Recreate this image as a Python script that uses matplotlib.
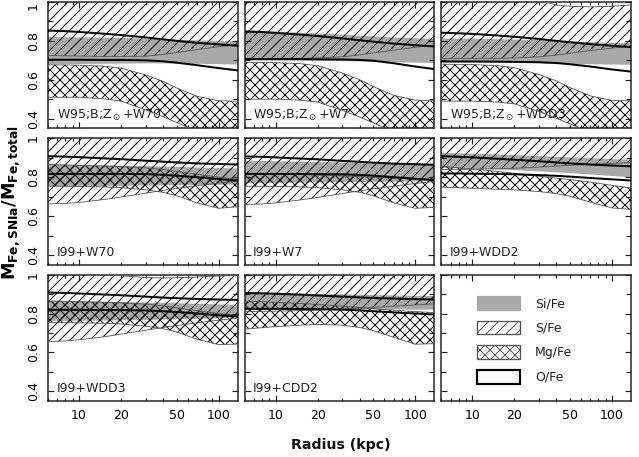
import matplotlib
matplotlib.use("Agg")
import matplotlib.pyplot as plt
from matplotlib.patches import Patch
from matplotlib.ticker import FixedLocator, FuncFormatter

radius = [6, 8, 10, 15, 20, 30, 40, 50, 70, 100, 137]

labels = [r"W95;B;Z$_\odot$+W70", r"W95;B;Z$_\odot$+W7", r"W95;B;Z$_\odot$+WDD3",
          "I99+W70", "I99+W7", "I99+WDD2",
          "I99+WDD3", "I99+CDD2"]

# O/Fe (two thick lines)
o_hi = [
    [0.853, 0.850, 0.846, 0.837, 0.830, 0.818, 0.808, 0.800, 0.790, 0.782, 0.775],
    [0.848, 0.845, 0.841, 0.832, 0.825, 0.813, 0.803, 0.796, 0.786, 0.778, 0.771],
    [0.842, 0.839, 0.836, 0.828, 0.821, 0.810, 0.800, 0.793, 0.783, 0.775, 0.768],
    [0.908, 0.906, 0.903, 0.897, 0.893, 0.885, 0.880, 0.876, 0.871, 0.868, 0.865],
    [0.907, 0.905, 0.902, 0.896, 0.892, 0.884, 0.879, 0.875, 0.870, 0.867, 0.864],
    [0.908, 0.905, 0.902, 0.895, 0.890, 0.882, 0.876, 0.871, 0.865, 0.860, 0.856],
    [0.908, 0.906, 0.903, 0.898, 0.894, 0.887, 0.882, 0.879, 0.875, 0.872, 0.870],
    [0.906, 0.904, 0.902, 0.897, 0.893, 0.887, 0.883, 0.880, 0.877, 0.874, 0.872],
]
o_lo = [
    [0.703, 0.703, 0.703, 0.702, 0.702, 0.700, 0.695, 0.688, 0.675, 0.660, 0.648],
    [0.706, 0.706, 0.706, 0.706, 0.705, 0.704, 0.702, 0.698, 0.685, 0.668, 0.655],
    [0.694, 0.694, 0.694, 0.693, 0.692, 0.690, 0.686, 0.680, 0.668, 0.653, 0.642],
    [0.817, 0.817, 0.817, 0.817, 0.817, 0.816, 0.812, 0.808, 0.800, 0.790, 0.783],
    [0.817, 0.817, 0.817, 0.817, 0.816, 0.815, 0.812, 0.808, 0.800, 0.792, 0.785],
    [0.819, 0.819, 0.818, 0.817, 0.815, 0.811, 0.807, 0.803, 0.796, 0.789, 0.783],
    [0.819, 0.819, 0.819, 0.818, 0.818, 0.816, 0.812, 0.808, 0.800, 0.791, 0.785],
    [0.824, 0.824, 0.824, 0.823, 0.822, 0.820, 0.816, 0.812, 0.806, 0.800, 0.795],
]

# Si/Fe (grey band)
si_hi = [
    [0.820, 0.819, 0.818, 0.816, 0.815, 0.812, 0.809, 0.806, 0.803, 0.800, 0.797],
    [0.856, 0.852, 0.848, 0.842, 0.838, 0.832, 0.827, 0.823, 0.818, 0.813, 0.810],
    [0.813, 0.812, 0.811, 0.809, 0.807, 0.804, 0.800, 0.797, 0.794, 0.790, 0.788],
    [0.865, 0.864, 0.863, 0.861, 0.859, 0.857, 0.855, 0.853, 0.850, 0.847, 0.845],
    [0.885, 0.884, 0.882, 0.880, 0.878, 0.875, 0.873, 0.871, 0.869, 0.867, 0.865],
    [0.925, 0.923, 0.921, 0.917, 0.914, 0.909, 0.905, 0.902, 0.898, 0.893, 0.890],
    [0.865, 0.864, 0.863, 0.861, 0.859, 0.857, 0.855, 0.853, 0.850, 0.847, 0.845],
    [0.906, 0.905, 0.904, 0.902, 0.901, 0.899, 0.897, 0.895, 0.893, 0.891, 0.890],
]
si_lo = [
    [0.680, 0.680, 0.681, 0.682, 0.683, 0.684, 0.684, 0.683, 0.682, 0.680, 0.678],
    [0.700, 0.700, 0.700, 0.699, 0.698, 0.696, 0.694, 0.692, 0.690, 0.688, 0.686],
    [0.690, 0.690, 0.690, 0.689, 0.688, 0.686, 0.684, 0.682, 0.680, 0.678, 0.677],
    [0.754, 0.754, 0.755, 0.755, 0.756, 0.757, 0.758, 0.759, 0.760, 0.761, 0.762],
    [0.770, 0.770, 0.771, 0.772, 0.773, 0.774, 0.775, 0.776, 0.777, 0.779, 0.780],
    [0.848, 0.846, 0.844, 0.840, 0.836, 0.830, 0.825, 0.821, 0.814, 0.806, 0.800],
    [0.762, 0.762, 0.763, 0.764, 0.765, 0.767, 0.769, 0.771, 0.773, 0.776, 0.778],
    [0.824, 0.824, 0.824, 0.823, 0.823, 0.822, 0.822, 0.821, 0.821, 0.820, 0.820],
]

# S/Fe (single hatch band)
s_hi = [
    [1.05] * 11,
    [1.05] * 11,
    [1.05, 1.05, 1.05, 1.05, 1.05, 1.01, 0.985, 0.978, 0.975, 0.978, 0.985],
    [1.05] * 11,
    [1.05] * 11,
    [1.05] * 11,
    [1.05, 1.05, 1.05, 1.01, 0.995, 0.985, 0.983, 0.984, 0.988, 0.993, 0.997],
    [1.05] * 11,
]
s_lo = [
    [0.725, 0.723, 0.722, 0.720, 0.720, 0.721, 0.730, 0.740, 0.755, 0.770, 0.780],
    [0.710, 0.710, 0.710, 0.710, 0.712, 0.718, 0.728, 0.738, 0.752, 0.767, 0.778],
    [0.710, 0.710, 0.710, 0.710, 0.712, 0.718, 0.727, 0.736, 0.750, 0.763, 0.772],
    [0.663, 0.665, 0.670, 0.685, 0.698, 0.718, 0.732, 0.742, 0.756, 0.770, 0.780],
    [0.660, 0.662, 0.668, 0.683, 0.696, 0.716, 0.730, 0.740, 0.754, 0.768, 0.778],
    [0.840, 0.840, 0.841, 0.843, 0.846, 0.852, 0.857, 0.861, 0.866, 0.871, 0.875],
    [0.656, 0.659, 0.665, 0.680, 0.694, 0.714, 0.728, 0.738, 0.752, 0.766, 0.776],
    [0.810, 0.811, 0.812, 0.815, 0.818, 0.823, 0.828, 0.832, 0.838, 0.844, 0.850],
]

# Mg/Fe (cross hatch band)
mg_hi = [
    [0.677, 0.676, 0.675, 0.670, 0.660, 0.625, 0.592, 0.558, 0.515, 0.492, 0.490],
    [0.690, 0.689, 0.688, 0.683, 0.672, 0.635, 0.600, 0.565, 0.520, 0.495, 0.492],
    [0.680, 0.679, 0.678, 0.673, 0.662, 0.627, 0.594, 0.560, 0.517, 0.494, 0.492],
    [0.865, 0.863, 0.861, 0.858, 0.855, 0.848, 0.840, 0.830, 0.815, 0.800, 0.790],
    [0.817, 0.816, 0.815, 0.813, 0.811, 0.807, 0.803, 0.800, 0.796, 0.792, 0.790],
    [0.856, 0.848, 0.842, 0.830, 0.820, 0.805, 0.795, 0.788, 0.775, 0.758, 0.745],
    [0.865, 0.863, 0.861, 0.858, 0.855, 0.848, 0.840, 0.830, 0.815, 0.800, 0.790],
    [0.863, 0.861, 0.858, 0.852, 0.847, 0.838, 0.831, 0.825, 0.817, 0.810, 0.805],
]
mg_lo = [
    [0.510, 0.510, 0.510, 0.502, 0.490, 0.445, 0.410, 0.380, 0.335, 0.300, 0.300],
    [0.500, 0.500, 0.500, 0.495, 0.485, 0.443, 0.408, 0.378, 0.333, 0.300, 0.300],
    [0.490, 0.490, 0.490, 0.485, 0.476, 0.437, 0.402, 0.373, 0.330, 0.300, 0.300],
    [0.754, 0.753, 0.752, 0.750, 0.746, 0.735, 0.722, 0.705, 0.668, 0.640, 0.648],
    [0.754, 0.753, 0.752, 0.750, 0.746, 0.735, 0.722, 0.705, 0.668, 0.640, 0.645],
    [0.749, 0.746, 0.743, 0.738, 0.735, 0.726, 0.716, 0.702, 0.672, 0.642, 0.634],
    [0.754, 0.753, 0.752, 0.750, 0.746, 0.735, 0.722, 0.705, 0.668, 0.640, 0.643],
    [0.720, 0.727, 0.733, 0.740, 0.744, 0.740, 0.728, 0.712, 0.678, 0.642, 0.645],
]

legend_names = ["Si/Fe", "S/Fe", "Mg/Fe", "O/Fe"]
xtick_major = [10, 100]
xtick_minor = [6, 7, 8, 9, 20, 30, 40, 50, 60, 70, 80, 90]
xtick_labelled = [10, 20, 50, 100]
ytick_major = [0.4, 0.6, 0.8, 1.0]
ytick_minor = [0.5, 0.7, 0.9]

GREY = "#a9a9a9"
EDGE = "#555555"
plt.rcParams["hatch.linewidth"] = 0.6
plt.rcParams["font.family"] = "DejaVu Sans"

DPI = 120
fig, axes = plt.subplots(3, 3, figsize=(639 / DPI, 457 / DPI), dpi=DPI)
fig.subplots_adjust(left=48 / 639, right=631 / 639, top=1 - 2 / 457,
                    bottom=1 - 401 / 457, wspace=0.037, hspace=0.079)


def xlab(v, pos):
    return "%d" % v if int(round(v)) in xtick_labelled else ""


for k, ax in enumerate(axes.flat):
    row, col = divmod(k, 3)
    ax.set_xscale("log")
    ax.set_xlim(6, 137)
    ax.set_ylim(0.35, 1.0)

    if k < len(labels):
        ax.fill_between(radius, si_lo[k], si_hi[k], facecolor=GREY, lw=0, zorder=1)
        ax.fill_between(radius, s_lo[k], s_hi[k], facecolor="none", edgecolor="black",
                        hatch="////", lw=0, zorder=2)
        ax.fill_between(radius, mg_lo[k], mg_hi[k], facecolor="none", edgecolor="black",
                        hatch="xxxx", lw=0, zorder=3)
        for band in (s_lo[k], s_hi[k], mg_lo[k], mg_hi[k]):
            ax.plot(radius, band, color=EDGE, lw=0.5, zorder=3.5)
        ax.plot(radius, o_hi[k], color="black", lw=1.2, zorder=4)
        ax.plot(radius, o_lo[k], color="black", lw=1.2, zorder=4)
        ax.text(0.045, 0.045, labels[k], transform=ax.transAxes, fontsize=7.5,
                color="#222222", ha="left", va="bottom", zorder=0.5)

    ax.xaxis.set_major_locator(FixedLocator(xtick_major))
    ax.xaxis.set_minor_locator(FixedLocator(xtick_minor))
    ax.yaxis.set_major_locator(FixedLocator(ytick_major))
    ax.yaxis.set_minor_locator(FixedLocator(ytick_minor))
    ax.tick_params(which="both", direction="in", top=True, right=True,
                   color="#222222", width=0.7, labelsize=7.5)
    ax.tick_params(which="major", length=3.6)
    ax.tick_params(axis="x", which="minor", length=1.8)
    ax.tick_params(axis="y", which="minor", length=3.0)
    for sp in ax.spines.values():
        sp.set_linewidth(0.9)
        sp.set_color("#222222")

    if row == 2:
        ax.xaxis.set_major_formatter(FuncFormatter(xlab))
        ax.xaxis.set_minor_formatter(FuncFormatter(xlab))
        ax.tick_params(axis="x", which="both", pad=5)
    else:
        ax.set_xticklabels([])
        ax.set_xticklabels([], minor=True)
    if col == 0:
        ax.set_yticklabels(["0.4", "0.6", "0.8", "1"], rotation=90, va="center")
        ax.tick_params(axis="y", pad=5)
        if row == 0:
            ax.get_yticklabels()[-1].set_va("top")
    else:
        ax.set_yticklabels([])

# legend panel
lax = axes[2, 2]
handles = [
    Patch(facecolor=GREY, edgecolor=GREY, lw=0.8),
    Patch(facecolor="white", edgecolor=EDGE, hatch="////", lw=0.8),
    Patch(facecolor="white", edgecolor=EDGE, hatch="xxxx", lw=0.8),
    Patch(facecolor="white", edgecolor="black", lw=1.3),
]
lax.legend(handles, legend_names, loc="upper left", bbox_to_anchor=(0.13, 0.92),
           frameon=False, fontsize=7.5, handlelength=3.4, handleheight=1.3,
           labelspacing=0.85, handletextpad=1.2, labelcolor="#222222")

fig.text(11 / 639, 1 - 203 / 457,
         r"$\mathbf{M_{Fe,SNIa}/M_{Fe,total}}$",
         rotation=90, ha="center", va="center", fontsize=10.5)
fig.text(341 / 639, 1 - 445 / 457, "Radius (kpc)", ha="center", va="center",
         fontsize=8.5, fontweight="bold", color="#111111")

fig.savefig("out.png", dpi=DPI)
